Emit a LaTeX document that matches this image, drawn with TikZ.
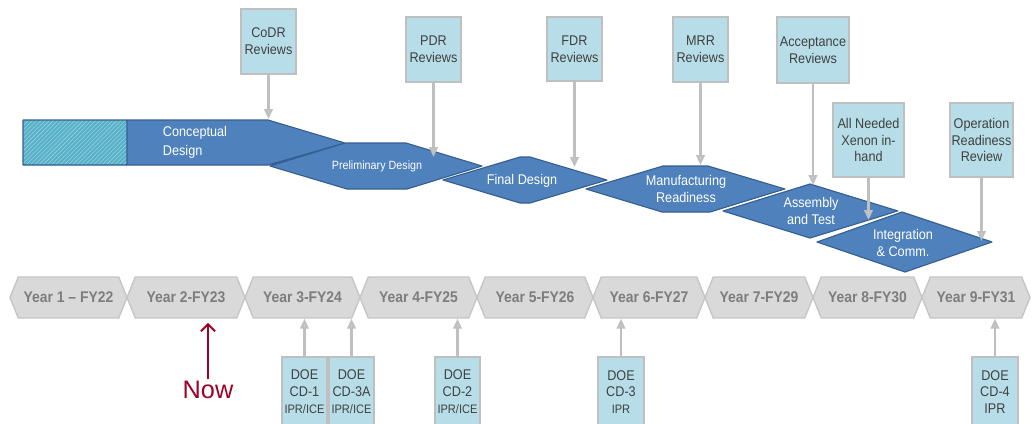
\documentclass[tikz,border=0pt]{standalone}
\usepackage{fontspec}
\setmainfont{Liberation Sans}
\newfontfamily\narrowsf{Liberation Sans}[FakeStretch=0.9]
\usepackage{xcolor}
\usetikzlibrary{shapes.symbols,arrows.meta,patterns,positioning}
\definecolor{phaseblue}{RGB}{79,129,189}
\definecolor{phaseline}{RGB}{54,95,145}
\definecolor{hatchbase}{RGB}{88,175,200}
\definecolor{hatchline}{RGB}{150,212,226}
\definecolor{boxblue}{RGB}{183,222,232}
\definecolor{boxline}{RGB}{191,191,191}
\definecolor{boxtext}{RGB}{64,64,64}
\definecolor{yearfill}{RGB}{217,217,217}
\definecolor{yearline}{RGB}{198,198,198}
\definecolor{yeartext}{RGB}{125,125,125}
\definecolor{nowred}{RGB}{160,0,40}

\begin{document}
\begin{tikzpicture}[x=0.025cm, y=-0.025cm,
    review/.style={rectangle, draw=boxline, fill=boxblue, line width=1.4pt, text=boxtext,
        font=\narrowsf\fontsize{10}{12}\selectfont, align=center, inner sep=0pt},
    doe/.style={review, anchor=north, minimum height=1.75cm},
    yearbox/.style={shape=signal, signal to=east and west, signal pointer angle=136,
        draw=yearline, fill=yearfill, line width=1pt, minimum height=1.025cm, inner sep=0pt,
        text=yeartext, font=\narrowsf\bfseries\fontsize{11}{13}\selectfont},
    phase/.style={fill=phaseblue, draw=phaseline, line width=0.8pt, line join=round},
    phaselabel/.style={text=white, font=\narrowsf\fontsize{10}{12.5}\selectfont, align=center},
    arrow/.style={draw=boxline, line width=1.6pt, -{Triangle[width=6pt,length=7pt,fill=boxblue]}}
]
    \path[use as bounding box] (0,0) rectangle (1034,423);
    \clip (0,0) rectangle (1034,423);
    \fill[white] (0,0) rectangle (1034,423);

    % Phase bands
    \fill[phaseblue] (23,120) -- (268,120) -- (345,143) -- (268,165) -- (23,165) -- cycle;
    \fill[hatchbase] (23,120) rectangle (127,165);
    \fill[pattern=north east lines, pattern color=hatchline] (23,120) rectangle (127,165);
    \fill[phaseblue] (270,166) -- (345,143) -- (406,143) -- (482,166) -- (407,189) -- (347,189) -- cycle;
    \fill[phaseblue] (443,180) -- (520,157) -- (530,157) -- (607,180) -- (530,203) -- (520,203) -- cycle;
    \fill[phaseblue] (586,189) -- (663,166) -- (708,166) -- (785,189) -- (710,212) -- (662,212) -- cycle;
    \draw[phaseline, line width=0.8pt, line join=round]
        (23,120) -- (268,120) -- (345,143) -- (268,165) -- (23,165) -- cycle
        (127,120) -- (127,165)
        (270,166) -- (345,143) -- (406,143) -- (482,166) -- (407,189) -- (347,189) -- cycle
        (443,180) -- (520,157) -- (530,157) -- (607,180) -- (530,203) -- (520,203) -- cycle
        (586,189) -- (663,166) -- (708,166) -- (785,189) -- (710,212) -- (662,212) -- cycle;
    \draw[white, line width=2.5pt, line join=round] (723,211) -- (810,184) -- (898,211) -- (810,238) -- cycle;
    \path[phase] (723,211) -- (810,184) -- (898,211) -- (810,238) -- cycle;
    \draw[white, line width=2.5pt, line join=round] (817,242) -- (902,212) -- (992,242) -- (905,272) -- cycle;
    \path[phase] (817,242) -- (902,212) -- (992,242) -- (905,272) -- cycle;

    % Where the review arrows land
    \coordinate (cd-mark) at (268,119);
    \coordinate (pd-mark) at (433,157);
    \coordinate (fd-mark) at (574,167);
    \coordinate (mr-mark) at (700,165);
    \coordinate (at-mark) at (812,185);
    \coordinate (at-low) at (869,220);
    \coordinate (ic-tip) at (982,241);

    % Phase labels
    \node[phaselabel, align=left, anchor=west, font=\narrowsf\fontsize{10}{13.5}\selectfont] (cdlabel) at (158,142.5) {Conceptual\\Design};
    \node[phaselabel, font=\narrowsf\fontsize{8.5}{10}\selectfont] (pdlabel) at (377,166) {Preliminary Design};
    \node[phaselabel] (fdlabel) at (522,181) {Final Design};
    \node[phaselabel] (mrlabel) at (686,189) {Manufacturing\\Readiness};
    \node[phaselabel] (atlabel) at (811,211) {Assembly\\and Test};
    \node[phaselabel] (iclabel) at (903,243) {Integration\\\& Comm.};

    % Reviews
    \node[review, minimum width=1.375cm, minimum height=1.625cm] (codr) at (268.5,41.5) {CoDR\\Reviews};
    \node[review, minimum width=1.375cm, minimum height=1.625cm] (pdr) at (433.5,49.5) {PDR\\Reviews};
    \node[review, minimum width=1.375cm, minimum height=1.6cm] (fdr) at (574.5,49) {FDR\\Reviews};
    \node[review, minimum width=1.375cm, minimum height=1.625cm] (mrr) at (700.5,49.5) {MRR\\Reviews};
    \node[review, minimum width=1.8cm, minimum height=1.65cm] (accept) at (813,50) {Acceptance\\Reviews};
    \node[review, minimum width=1.775cm, minimum height=1.85cm] (xenon) at (868.5,140) {All Needed\\Xenon in-\\hand};
    \node[review, minimum width=1.575cm, minimum height=1.85cm] (orr) at (981.5,140) {Operation\\Readiness\\Review};

    \draw[arrow] (codr.south) -- (codr.south |- cd-mark);
    \draw[arrow] (pdr.south) -- (pdr.south |- pd-mark);
    \draw[arrow] (fdr.south) -- (fdr.south |- fd-mark);
    \draw[arrow] (mrr.south) -- (mrr.south |- mr-mark);
    \draw[arrow] (accept.south) -- (accept.south |- at-mark);
    \draw[arrow] (xenon.south) -- (xenon.south |- at-low);
    \draw[arrow] (orr.south) -- (orr.south |- ic-tip);

    % Fiscal years
    \foreach \l/\r/\txt [count=\i] in {10/127/Year 1 – FY22, 127/245/Year 2-FY23, 245/360/Year 3-FY24,
        360/477/Year 4-FY25, 477/593/Year 5-FY26, 593/705/Year 6-FY27, 705/813/Year 7-FY29,
        813/922/Year 8-FY30, 922/1030/Year 9-FY31}
        \node[yearbox, minimum width={(\r-\l)*0.025cm}] (year\i) at ({(\l+\r)/2},297.5) {\txt};

    % DOE milestones
    \node[doe, minimum width=1.125cm] (cd1) at (304.5,356) {DOE\\CD-1\\{\fontsize{8.75}{10}\selectfont IPR/ICE}};
    \node[doe, minimum width=1.125cm] (cd3a) at (351.5,356) {DOE\\CD-3A\\{\fontsize{8.75}{10}\selectfont IPR/ICE}};
    \node[doe, minimum width=1.125cm] (cd2) at (457.5,356) {DOE\\CD-2\\{\fontsize{8.75}{10}\selectfont IPR/ICE}};
    \node[doe, minimum width=1.15cm] (cd3) at (621,356) {DOE\\CD-3\\{\fontsize{8.75}{10}\selectfont IPR}};
    \node[doe, minimum width=1.15cm] (cd4) at (995,356) {DOE\\CD-4\\IPR};

    \draw[arrow] (cd1.north) -- (cd1.north |- year3.south);
    \draw[arrow] (cd3a.north) -- (cd3a.north |- year3.south);
    \draw[arrow] (cd2.north) -- (cd2.north |- year4.south);
    \draw[arrow] (cd3.north) -- (cd3.north |- year6.south);
    \draw[arrow] (cd4.north) -- (cd4.north |- year9.south);

    % Today
    \node[text=nowred, font=\fontsize{18}{20}\selectfont, inner sep=1pt] (now) at (208,390) {Now};
    \draw[nowred, line width=1.3pt, -{Straight Barb[length=5pt,width=10pt]}, shorten >=3pt]
        (now.north) -- (now.north |- year2.south);
\end{tikzpicture}
\end{document}
